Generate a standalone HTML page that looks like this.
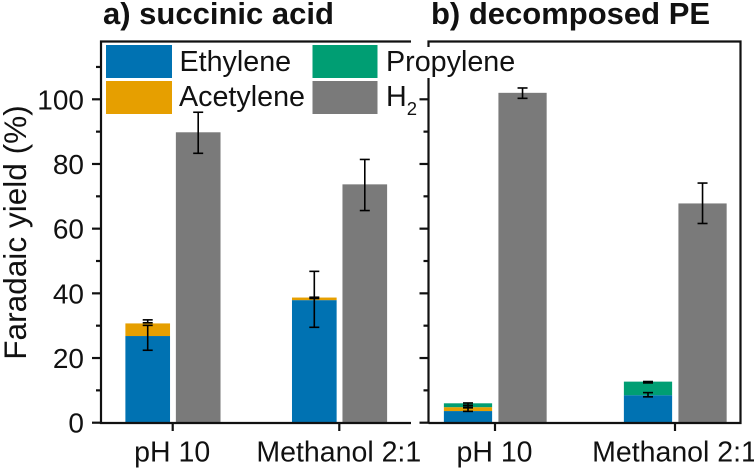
<!DOCTYPE html>
<html lang="en">
<head>
<meta charset="utf-8">
<title>Faradaic yield chart</title>
<style>
html,body{margin:0;padding:0;background:#fff;width:754px;height:469px;overflow:hidden}
svg{display:block;font-family:"Liberation Sans",Arial,sans-serif;fill:#111}
</style>
</head>
<body>
<svg id="chart" width="754" height="469" viewBox="0 0 754 469" xmlns="http://www.w3.org/2000/svg">
  <text x="103" y="24" font-size="31" font-weight="700">a) succinic acid</text>
  <text x="431" y="24" font-size="31" font-weight="700">b) decomposed PE</text>
  <text transform="translate(26,232.500) rotate(-90)" text-anchor="middle" font-size="31.600">Faradaic yield (%)</text>
  <g id="marks"></g>
  <g id="axes"></g>
  <g id="legend">
    <rect x="420" y="47" width="14" height="31" fill="#fff"/>
    <rect x="106" y="45" width="66" height="33" fill="#0072B2"/>
    <rect x="106" y="81" width="66" height="33" fill="#E69F00"/>
    <rect x="312.500" y="45" width="65" height="33" fill="#009E73"/>
    <rect x="312.500" y="81" width="65" height="33" fill="#7A7A7A"/>
    <text x="179.500" y="71" font-size="28.700">Ethylene</text>
    <text x="179" y="106" font-size="28.700">Acetylene</text>
    <text x="386" y="71" font-size="28.700">Propylene</text>
    <text x="386" y="106" font-size="28.700">H<tspan font-size="18.500" dy="9">2</tspan></text>
  </g>
</svg>
<script>
const categories = ['pH 10', 'Methanol 2:1'];
const yTickLabels = [0, 20, 40, 60, 80, 100];
const yMinorTicks = [10, 30, 50, 70, 90, 110];

const aEthylene = [26.8, 37.9];
const aAcetylene = [3.9, 0.8];
const aPropylene = [0, 0];
const aHydrogen = [89.8, 73.7];
const aEthyleneErrLow = [22.4, 29.5];
const aEthyleneErrHigh = [30.1, 46.8];
const aUpperErrLow = [30.9, 38.4];
const aUpperErrHigh = [31.8, 38.8];
const aHydrogenErrLow = [83.3, 65.6];
const aHydrogenErrHigh = [96, 81.4];

const bEthylene = [3.6, 8.5];
const bAcetylene = [1.2, 0];
const bPropylene = [1.2, 4.2];
const bHydrogen = [102, 67.8];
const bEthyleneErrLow = [3.5, 8];
const bEthyleneErrHigh = [4.6, 9.3];
const bUpperErrLow = [4.7, 12.3];
const bUpperErrHigh = [5.4, 12.7];
const bTopErrLow = [5.3, 12.4];
const bTopErrHigh = [6.1, 12.7];
const bHydrogenErrLow = [100.3, 61.6];
const bHydrogenErrHigh = [103.5, 74.1];

const svgNS = 'http://www.w3.org/2000/svg';
const marks = document.getElementById('marks');
const axes = document.getElementById('axes');
const AX = '#111';
const yScale = v => 422.7 - v * 3.234;

function shape(parent, tag, attrs) {
  const el = document.createElementNS(svgNS, tag);
  for (const k in attrs) el.setAttribute(k, attrs[k]);
  parent.appendChild(el);
  return el;
}

function drawBar(xScale, i, off, low, val, color, label) {
  const w = 0.268;
  const el = shape(marks, 'rect', {
    x: xScale(i + off - w / 2),
    y: yScale(low + val),
    width: xScale(i + off + w / 2) - xScale(i + off - w / 2),
    height: Math.max(0, yScale(low) - yScale(low + val)),
    fill: color
  });
  
  
}

function drawError(xScale, i, off, lo, hi, label) {
  const x = xScale(i + off);
  const g = shape(marks, 'g', { stroke: '#000', 'stroke-width': 1.6, fill: 'none' });
  
  
  shape(g, 'line', { x1: x, x2: x, y1: yScale(lo), y2: yScale(hi) });
  shape(g, 'line', { x1: x - 5, x2: x + 5, y1: yScale(lo), y2: yScale(lo) });
  shape(g, 'line', { x1: x - 5, x2: x + 5, y1: yScale(hi), y2: yScale(hi) });
}

function drawPanel(p) {
  categories.forEach((cat, i) => {
    const key = p.id + '-' + i;
    drawBar(p.x, i, -0.15, 0, p.eth[i], '#0072B2', 'bar-ethylene-' + key);
    drawBar(p.x, i, -0.15, p.eth[i], p.ace[i], '#E69F00', 'bar-acetylene-' + key);
    drawBar(p.x, i, -0.15, p.eth[i] + p.ace[i], p.pro[i], '#009E73', 'bar-propylene-' + key);
    drawBar(p.x, i, 0.153, 0, p.h2[i], '#7A7A7A', 'bar-h2-' + key);
    drawError(p.x, i, -0.15, p.ethLo[i], p.ethHi[i], 'error-ethylene-' + key);
    drawError(p.x, i, -0.15, p.upLo[i], p.upHi[i], 'error-upper-' + key);
    if (p.topLo) drawError(p.x, i, -0.15, p.topLo[i], p.topHi[i], 'error-top-' + key);
    drawError(p.x, i, 0.153, p.h2Lo[i], p.h2Hi[i], 'error-h2-' + key);

    const tx = p.x(i);
    const tick = shape(axes, 'line', { x1: tx, x2: tx, y1: 423, y2: 431, stroke: AX, 'stroke-width': 2.2 });
    
    
    const lab = shape(axes, 'text', { x: tx - 0.5, y: 461.500, 'text-anchor': 'middle', 'font-size': 28.5 });
    
    
    lab.textContent = cat;
  });

  const spine = p.spine;
  yTickLabels.forEach(v => {
    const t = shape(axes, 'line', { x1: spine - 9, x2: spine, y1: yScale(v), y2: yScale(v), stroke: AX, 'stroke-width': 2.2 });
    
    
  });
  yMinorTicks.forEach(v => {
    const t = shape(axes, 'line', { x1: spine - 5, x2: spine, y1: yScale(v), y2: yScale(v), stroke: AX, 'stroke-width': 2.2 });
    
    
  });
  const frame = shape(axes, 'path', { d: p.frame, fill: 'none', stroke: AX, 'stroke-width': 2.2 });
  
  
}

drawPanel({
  id: 'panel-a', spine: 101,
  x: c => 172.7 + c * 166.6,
  frame: 'M411 41.500H101V423H411',
  eth: aEthylene, ace: aAcetylene, pro: aPropylene, h2: aHydrogen,
  ethLo: aEthyleneErrLow, ethHi: aEthyleneErrHigh,
  upLo: aUpperErrLow, upHi: aUpperErrHigh,
  h2Lo: aHydrogenErrLow, h2Hi: aHydrogenErrHigh
});
drawPanel({
  id: 'panel-b', spine: 428.500,
  x: c => 495 + c * 180,
  frame: 'M428.500 423V41.500H740.500V423H428.500',
  eth: bEthylene, ace: bAcetylene, pro: bPropylene, h2: bHydrogen,
  ethLo: bEthyleneErrLow, ethHi: bEthyleneErrHigh,
  upLo: bUpperErrLow, upHi: bUpperErrHigh,
  topLo: bTopErrLow, topHi: bTopErrHigh,
  h2Lo: bHydrogenErrLow, h2Hi: bHydrogenErrHigh
});

yTickLabels.forEach(v => {
  const t = shape(axes, 'text', { x: 84, y: yScale(v) + 10, 'text-anchor': 'end', 'font-size': 28 });
  
  
  t.textContent = v;
});
</script>
</body>
</html>
